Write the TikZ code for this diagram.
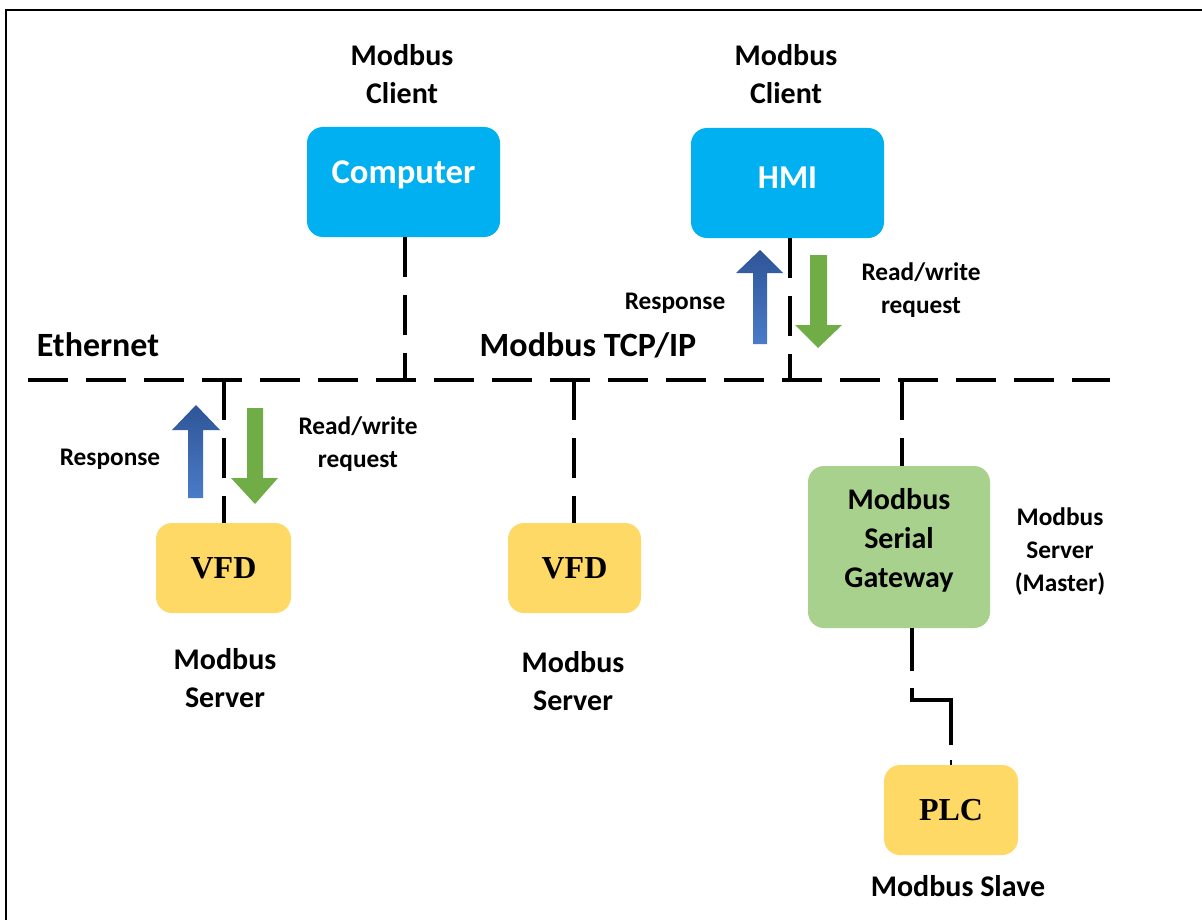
\documentclass[tikz,border=0pt]{standalone}
\usepackage{fontspec}
\setmainfont{Carlito}
\newfontfamily\tnr{Liberation Serif}
\definecolor{cyanbox}{HTML}{00B0F0}
\definecolor{yelbox}{HTML}{FFD966}
\definecolor{grnbox}{HTML}{A9D18E}
\definecolor{bluedark}{HTML}{2F5597}
\definecolor{bluelight}{HTML}{4A7BC8}
\definecolor{grnarr}{HTML}{70AD47}
\newcommand{\lift}[2]{\raisebox{#1}[\height][\depth]{#2}}
\begin{document}
\begin{tikzpicture}[x=0.75pt,y=-0.75pt,
  box/.style={rounded corners=12pt, inner sep=0pt, align=center},
  cyanb/.style={box, fill=cyanbox, text=white, font=\bfseries\fontsize{25}{29}\selectfont, minimum width=144.75pt, minimum height=82.5pt},
  yelb/.style={box, fill=yelbox, font=\tnr\bfseries\fontsize{24}{28}\selectfont, minimum height=67.5pt},
  grnb/.style={box, fill=grnbox, font=\bfseries\fontsize{22.5}{29.25}\selectfont, minimum width=136.5pt, minimum height=121.5pt},
  biglbl/.style={font=\bfseries\fontsize{22.5}{28.5}\selectfont, align=center, inner sep=0pt},
  buslbl/.style={font=\bfseries\fontsize{25.5}{30}\selectfont, inner sep=0pt},
  smllbl/.style={font=\bfseries\fontsize{19}{24.75}\selectfont, align=center, inner sep=0pt},
  bus/.style={line width=3pt, dash pattern=on 30pt off 13.5pt},
  wire/.style={line width=3pt}
]
\useasboundingbox (0,0) rectangle (1202,920);
\fill[white] (0,0) rectangle (1202,920);
% frame
\draw[line width=1.5pt] (6,920) -- (6,10) -- (1202,10);

% boxes
\node[cyanb, font=\bfseries\fontsize{26}{30}\selectfont] (comp) at (403.5,182) {\lift{5.25pt}{Computer}};
\node[cyanb] (hmi) at (787.5,183) {\lift{3.75pt}{HMI}};
\node[yelb, minimum width=101.25pt] (vfd1) at (223.5,568) {VFD};
\node[yelb, minimum width=99.75pt] (vfd2) at (574.5,568) {VFD};
\node[grnb] (gw) at (899,547) {\lift{4.5pt}{\begin{tabular}{@{}c@{}}Modbus\\Serial\\Gateway\end{tabular}}};
\node[yelb, minimum width=100.5pt] (plc) at (951,810) {PLC};

% bus
\coordinate (busL) at (28,380);
\coordinate (busR) at (1110,380);
\draw[bus] (busL) -- (busR);
\coordinate (bc) at (405,380);
\coordinate (bh) at (790,380);
\coordinate (bv1) at (224,380);
\coordinate (bv2) at (574,380);
\coordinate (bg) at (902,380);
\draw[bus] (comp.south -| bc) -- (bc);
\draw[bus] (hmi.south -| bh) -- (bh);
\draw[bus] (bv1) -- (bv1 |- vfd1.north);
\draw[bus] (bv2) -- (bv2 |- vfd2.north);
\draw[bus] (bg) -- (bg |- gw.north);

% gateway to PLC
\coordinate (g1) at (912,671);
\coordinate (g2) at (912,688);
\coordinate (g3) at (912,700);
\coordinate (g4) at (951,700);
\coordinate (g5) at (951,745);
\coordinate (g6) at (951,760);
\draw[wire] (gw.south -| g1) -- (g1);
\draw[wire] (g2) -- (g3) -- (g4) -- (g5);
\draw[line width=2pt] (g6) -- (g6 |- plc.north);

% arrows
\shade[top color=bluedark, bottom color=bluelight] (196,405) -- (220,430) -- (203,430) -- (203,498) -- (188,498) -- (188,430) -- (172,430) -- cycle;
\fill[grnarr] (247,408) -- (263,408) -- (263,478) -- (278,478) -- (255,504) -- (231,478) -- (247,478) -- cycle;
\shade[top color=bluedark, bottom color=bluelight] (760,250) -- (783,273) -- (767,273) -- (767,344) -- (753,344) -- (753,273) -- (736,273) -- cycle;
\fill[grnarr] (810,255) -- (827,255) -- (827,325) -- (842,325) -- (818,348) -- (795,325) -- (810,325) -- cycle;

% labels
\node[biglbl] (lc1) at (402,74) {Modbus\\Client};
\node[biglbl] (lc2) at (786,74) {Modbus\\Client};
\node[buslbl] (leth) at (98,345) {Ethernet};
\node[buslbl] (ltcp) at (588,345) {Modbus TCP/IP};
\node[smllbl] (lr1) at (110,459) {Response};
\node[smllbl] (lq1) at (358,444) {Read/write\\request};
\node[smllbl] (lr2) at (675,303) {Response};
\node[smllbl] (lq2) at (921,290) {Read/write\\request};
\node[biglbl] (ls1) at (225,678) {Modbus\\Server};
\node[biglbl] (ls2) at (573,681) {Modbus\\Server};
\node[smllbl] (lm) at (1060,552) {Modbus\\Server\\(Master)};
\node[biglbl] (lsl) at (958,886) {Modbus Slave};
\end{tikzpicture}
\end{document}
